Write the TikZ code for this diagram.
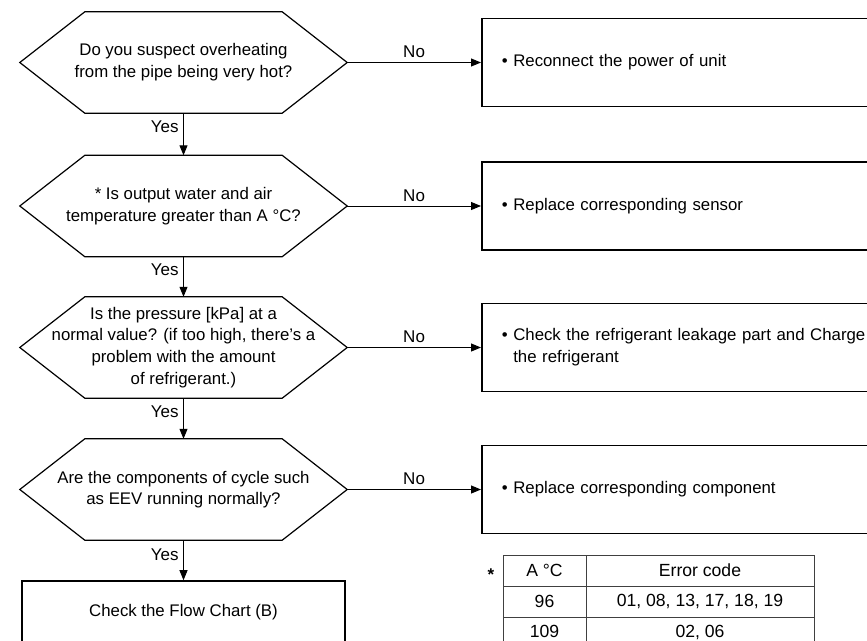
\documentclass[tikz,border=0pt]{standalone}
\usepackage{fontspec}
\setmainfont{Liberation Sans}
\usetikzlibrary{arrows.meta}
\newcommand\hexoutline[1]{\draw[hexline] (#1.west) -- ([xshift=65pt]#1.north west) -- ([xshift=-65pt]#1.north east) -- (#1.east) -- ([xshift=-65pt]#1.south east) -- ([xshift=65pt]#1.south west) -- cycle;}
\begin{document}
\begin{tikzpicture}[x=1pt,y=-1pt,
  every node/.style={font=\fontsize{16.8}{21.7}\selectfont},
  hexnode/.style={minimum width=327pt, minimum height=101pt, inner sep=0pt, align=center},
  hexline/.style={line width=1.2pt, line join=miter},
  actbox/.style={draw, line width=1.6pt, anchor=west, minimum height=88pt, text width=381pt, inner xsep=20pt, align=left},
  arr/.style={line width=1pt, -{Triangle[length=10pt,width=8pt]}},
  cell/.style={draw=black!75, line width=0.9pt, minimum height=31pt, inner sep=0pt, font=\fontsize{17.6}{22}\selectfont},
  lbl/.style={font=\fontsize{17}{21}\selectfont}
]
\useasboundingbox (0,0) rectangle (867,640);
\clip (0,0) rectangle (867,640);

% decisions
\node[hexnode] (q1) at (183.5,62.5) {Do you suspect overheating\\from the pipe being very hot?};
\node[hexnode] (q2) at (183.5,206) {* Is output water and air\\temperature greater than A °C?};
\node[hexnode] (q3) at (183.5,347.5) {Is the pressure [kPa] at a\\normal value? (if too high, there's a\\problem with the amount\\of refrigerant.)};
\node[hexnode] (q4) at (183.5,489.5) {Are the components of cycle such\\as EEV running normally?};
\hexoutline{q1}
\hexoutline{q2}
\hexoutline{q3}
\hexoutline{q4}

% actions
\node[actbox] (a1) at (481,62.5) {• Reconnect the power of unit};
\node[actbox] (a2) at (481,206) {• Replace corresponding sensor};
\node[actbox] (a3) at (481,347.5) {• Check the refrigerant leakage part and Charge\\\phantom{• }the refrigerant};
\node[actbox] (a4) at (481,489.5) {• Replace corresponding component};

\node[draw, line width=1.6pt, minimum width=323pt, minimum height=63pt] (fc) at (183.5,612.5) {Check the Flow Chart (B)};

% connectors
\draw[arr] (q1.east) -- node[lbl, above=1pt] {No} (a1.west);
\draw[arr] (q2.east) -- node[lbl, above=1pt] {No} (a2.west);
\draw[arr] (q3.east) -- node[lbl, above=1pt] {No} (a3.west);
\draw[arr] (q4.east) -- node[lbl, above=1pt] {No} (a4.west);
\draw[arr] (q1.south) -- node[lbl, left=1pt, pos=0.33] {Yes} (q2.north);
\draw[arr] (q2.south) -- node[lbl, left=1pt, pos=0.33] {Yes} (q3.north);
\draw[arr] (q3.south) -- node[lbl, left=1pt, pos=0.33] {Yes} (q4.north);
\draw[arr] (q4.south) -- node[lbl, left=1pt, pos=0.36] {Yes} (fc.north);

% table
\node[font=\bfseries\fontsize{17}{21}\selectfont] (star) at (491,575) {*};
\node[cell, minimum width=83pt] (t11) at (544.5,570.5) {A °C};
\node[cell, minimum width=228pt] (t12) at (700,570.5) {Error code};
\node[cell, minimum width=83pt] (t21) at (544.5,601.5) {96};
\node[cell, minimum width=228pt] (t22) at (700,601.5) {01, 08, 13, 17, 18, 19};
\node[cell, minimum width=83pt] (t31) at (544.5,632.5) {\raisebox{2.5pt}{109}};
\node[cell, minimum width=228pt] (t32) at (700,632.5) {\raisebox{2.5pt}{02, 06}};
\end{tikzpicture}
\end{document}
